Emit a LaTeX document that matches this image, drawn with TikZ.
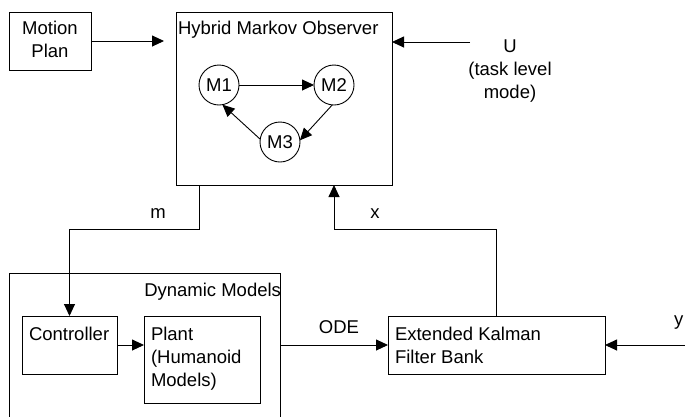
\documentclass[tikz,border=0pt]{standalone}
\usepackage{fontspec}
\setmainfont{Liberation Sans}
\usetikzlibrary{arrows.meta,calc}
\begin{document}
\begin{tikzpicture}[x=1pt,y=-1pt,
  every node/.style={inner sep=0pt,outer sep=0pt},
  box/.style={draw=black,line width=0.9pt,rectangle},
  state/.style={draw=black,line width=0.9pt,circle,minimum size=40pt,font=\fontsize{18.5}{22}\selectfont},
  lbl/.style={font=\fontsize{18.5}{22}\selectfont,anchor=base},
  lblw/.style={font=\fontsize{18.5}{22}\selectfont,anchor=base west},
  arr/.style={draw=black,line width=0.9pt,-{Triangle[length=12pt,width=11pt]}}]
\useasboundingbox (0,0) rectangle (685,416);
% boxes
\node[box,minimum width=82pt,minimum height=58pt] (mp) at (50,41) {};
\node[box,minimum width=216pt,minimum height=173pt] (hmo) at (284,98.5) {};
\node[box,minimum width=271pt,minimum height=147pt] (dyn) at (144.5,346.5) {};
\node[box,minimum width=95pt,minimum height=58pt] (ctrl) at (69.5,345) {};
\node[box,minimum width=116pt,minimum height=87pt] (plant) at (202,359.5) {};
\node[box,minimum width=217pt,minimum height=58pt] (ekf) at (496.5,345) {};
% states
\node[state] (m1) at (219,85) {M1};
\node[state] (m2) at (334,85) {M2};
\node[state] (m3) at (280,142) {M3};
% labels
\node[lbl] (tmp1) at (50,34) {Motion};
\node[lbl] (tmp2) at (50,57) {Plan};
\node[lblw] (thmo) at (178,34) {Hybrid Markov Observer};
\node[lbl] (tu1) at (510,52) {U};
\node[lbl] (tu2) at (510,75) {(task level};
\node[lbl] (tu3) at (510,98) {mode)};
\node[lbl] (tm) at (158,218) {m};
\node[lbl] (tx) at (375,218) {x};
\node[font=\fontsize{18.5}{22}\selectfont,anchor=base east] (tdyn) at (281,296) {Dynamic Models};
\node[lblw] (tctrl) at (29,340) {Controller};
\node[lblw] (tpl1) at (151,340) {Plant};
\node[lblw] (tpl2) at (151,363) {(Humanoid};
\node[lblw] (tpl3) at (151,386) {Models)};
\node[lbl] (tode) at (339,333) {ODE};
\node[lblw] (tek1) at (395,340) {Extended Kalman};
\node[lblw] (tek2) at (395,363) {Filter Bank};
\node[lblw] (ty) at (674,325) {y};
% free ends
\coordinate (ustart) at (470,42);
\coordinate (ystart) at (686,345);
% connectors
\draw[arr,shorten >=12pt] (mp.east) -- (mp.east -| hmo.west);
\draw[arr] (ustart) -- (hmo.east |- ustart);
\draw[arr] (m1) -- (m2);
\draw[arr] (m2.-95) -- (m3.5);
\draw[arr] (m3.172) -- (m1.-80);
\draw[arr] ([xshift=23pt]hmo.south west) -- ++(0,44) -| (ctrl.north);
\draw[arr] (ekf.north) -- ++(0,-87) -| ([xshift=158pt]hmo.south west);
\draw[arr] (ctrl.east) -- (ctrl.east -| plant.west);
\draw[arr] (ekf.west -| dyn.east) -- (ekf.west);
\draw[arr] (ystart) -- (ekf.east |- ystart);
\end{tikzpicture}
\end{document}
